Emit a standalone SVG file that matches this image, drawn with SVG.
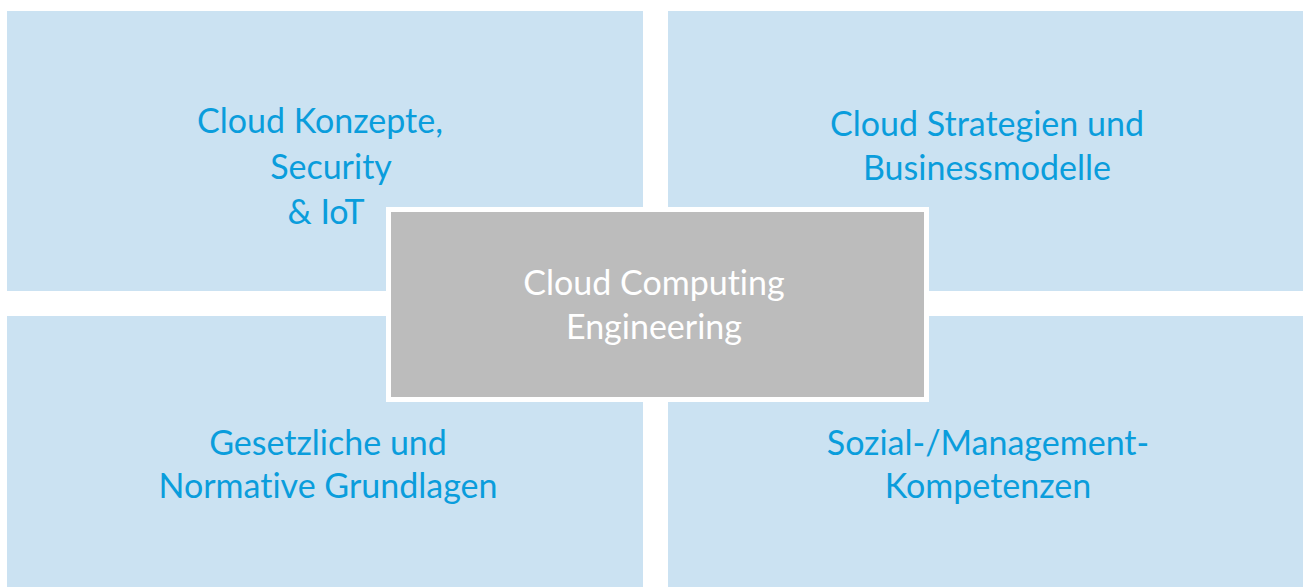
<svg xmlns="http://www.w3.org/2000/svg" width="1303" height="587" viewBox="0 0 1303 587">
<style>
.q{fill:#cbe2f2}
.t,.c{font-family:Lato,"Open Sans","Liberation Sans",sans-serif;font-size:34px;text-anchor:middle;font-variant-ligatures:none}
.t{fill:#0a9ddc}
.c{fill:#ffffff}
</style>
<rect width="1303" height="587" fill="#ffffff"/>
<g id="node-tl">
<rect class="q" x="7" y="11" width="636" height="280"/>
<text class="t"><tspan x="320" y="133">Cloud Konzepte,</tspan><tspan x="331" y="179">Security</tspan><tspan x="326" y="224">&amp; IoT</tspan></text>
</g>
<g id="node-tr">
<rect class="q" x="668" y="11" width="635" height="280"/>
<text class="t"><tspan x="987" y="136">Cloud Strategien und</tspan><tspan x="987" y="180">Businessmodelle</tspan></text>
</g>
<g id="node-bl">
<rect class="q" x="7" y="316" width="636" height="271"/>
<text class="t"><tspan x="328" y="455">Gesetzliche und</tspan><tspan x="328" y="498">Normative Grundlagen</tspan></text>
</g>
<g id="node-br">
<rect class="q" x="668" y="316" width="635" height="271"/>
<text class="t"><tspan x="988" y="455">Sozial-/Management-</tspan><tspan x="988" y="498">Kompetenzen</tspan></text>
</g>
<g id="node-center">
<rect x="388.5" y="209.5" width="538" height="190" fill="#bcbcbc" stroke="#ffffff" stroke-width="5"/>
<text class="c"><tspan x="654" y="295">Cloud Computing</tspan><tspan x="654" y="339">Engineering</tspan></text>
</g>
<g id="connectors"/>
</svg>
